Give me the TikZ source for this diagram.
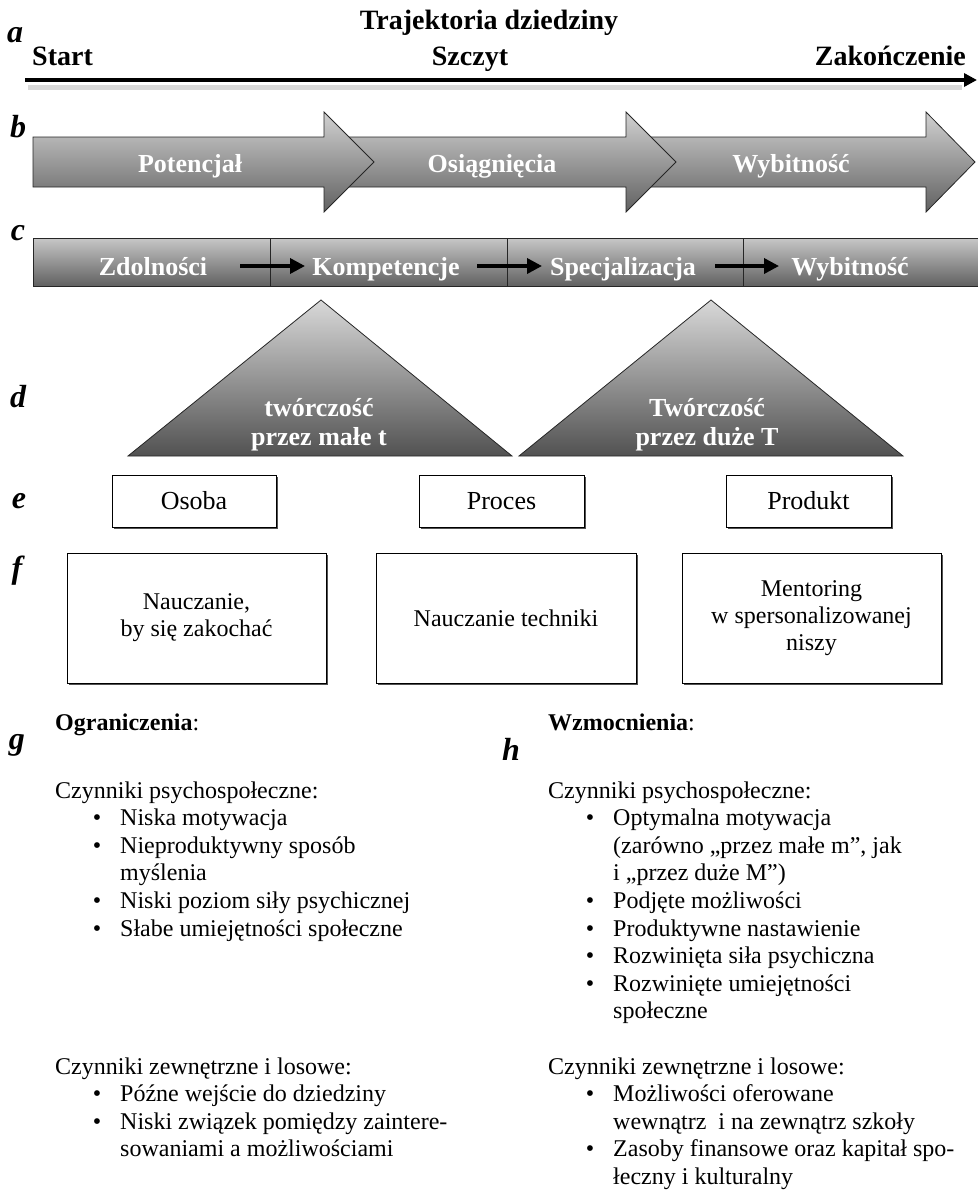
\documentclass[tikz,border=0pt]{standalone}
\usepackage{fontspec}
\setmainfont{Liberation Serif}
\usetikzlibrary{arrows.meta,shadows}
\newcommand{\fsz}[2]{\fontsize{#1}{#2}\selectfont}
\newcommand{\bul}{\llap{\textbullet\hspace{19pt}}}
\begin{document}
\begin{tikzpicture}[x=1pt,y=-1pt,
  lab/.style={font=\fsz{32}{34}\bfseries\itshape, inner sep=0pt, anchor=base},
  hd/.style={font=\fsz{28}{30}\bfseries, inner sep=0pt, anchor=base},
  wt/.style={font=\fsz{26}{29}\bfseries, text=white, inner sep=0pt, anchor=base, align=center},
  bshade/.style={draw=black!85, line width=0.8pt, top color=black!18, bottom color=black!62},
  cshade/.style={draw=black!85, line width=0.8pt, top color=black!22, bottom color=black!62, minimum height=48pt, inner sep=0pt},
  tshade/.style={draw=black!85, line width=0.8pt, top color=black!15, bottom color=black!68},
  ebox/.style={draw=black, line width=1pt, fill=white, drop shadow={shadow xshift=1.6pt, shadow yshift=-1.6pt, opacity=0.85, fill=black!80}, inner sep=0pt, font=\fsz{26}{28}},
  fbox/.style={ebox, font=\fsz{24}{27}, align=center},
  txt/.style={font=\fsz{24}{27}, inner sep=0pt, anchor=base west},
  carrow/.style={line width=3.5pt, -{Triangle[length=15pt,width=15pt]}},
]
\useasboundingbox (0,0) rectangle (977,1191);

% a: trajectory
\node[lab] (la) at (15,42) {a};
\node[hd] (traj) at (489,29) {Trajektoria dziedziny};
\node[hd, anchor=base west] (start) at (32,65) {Start};
\node[hd] (szczyt) at (470,65) {Szczyt};
\node[hd, anchor=base east] (zak) at (966,65) {Zakończenie};
\coordinate (as) at (25,80);
\coordinate (ae) at (977,80);
\draw[line width=5pt, black!25, opacity=0.6] (28,87) -- (962,87);
\draw[line width=3.5pt, -{Triangle[length=13pt,width=13pt]}] (as) -- (ae);

% b: arrows
\node[lab] (lb) at (18,137) {b};
\path[bshade] (626,137) -- (926,137) -- (926,112) -- (975,162) -- (926,212) -- (926,187) -- (626,187) -- cycle;
\path[bshade] (324,137) -- (626,137) -- (626,112) -- (676,162) -- (626,212) -- (626,187) -- (324,187) -- cycle;
\path[bshade] (33,137) -- (324,137) -- (324,112) -- (374,162) -- (324,212) -- (324,187) -- (33,187) -- cycle;
\node[wt] (pot) at (190,172) {Potencjał};
\node[wt] (osi) at (492,172) {Osiągnięcia};
\node[wt] (wyb1) at (791,172) {Wybitność};

% c: bar
\node[lab] (lc) at (18,240) {c};
\node[cshade, minimum width=237pt] (c1) at (151.5,262) {};
\node[cshade, minimum width=237pt] (c2) at (388.5,262) {};
\node[cshade, minimum width=236pt] (c3) at (625,262) {};
\node[cshade, minimum width=247pt] (c4) at (866.5,262) {};
\node[wt] (zdol) at (153,275) {Zdolności};
\node[wt] (komp) at (386,275) {Kompetencje};
\node[wt] (spec) at (623,275) {Specjalizacja};
\node[wt] (wyb2) at (850,275) {Wybitność};
\coordinate (a1s) at (240,266); \coordinate (a1e) at (305,266);
\coordinate (a2s) at (477,266); \coordinate (a2e) at (542,266);
\coordinate (a3s) at (715,266); \coordinate (a3e) at (779,266);
\draw[carrow] (a1s) -- (a1e);
\draw[carrow] (a2s) -- (a2e);
\draw[carrow] (a3s) -- (a3e);

% d: triangles
\node[lab] (ld) at (18,407) {d};
\path[tshade] (128,456) -- (321,300) -- (512,456) -- cycle;
\path[tshade] (519,456) -- (711,300) -- (903,456) -- cycle;
\node[wt, anchor=center] (t1) at (319,425) {twórczość\\przez małe t};
\node[wt, anchor=center] (t2) at (707,425) {Twórczość\\przez duże T};

% e: boxes
\node[lab] (le) at (19,508) {e};
\node[ebox, minimum width=164pt, minimum height=52pt] (osoba) at (194,501) {Osoba};
\node[ebox, minimum width=165pt, minimum height=52pt] (proces) at (501.5,501) {Proces};
\node[ebox, minimum width=165pt, minimum height=52pt] (produkt) at (808.5,501) {Produkt};

% f: boxes
\node[lab] (lf) at (17,578) {f};
\node[fbox, minimum width=259pt, minimum height=130pt] (f1) at (196.5,618) {Nauczanie,\\by się zakochać};
\node[fbox, minimum width=260pt, minimum height=130pt] (f2) at (506,618) {Nauczanie techniki};
\node[fbox, minimum width=259pt, minimum height=130pt] (f3) at (811.5,618) {Mentoring\\w spersonalizowanej\\niszy};

% g: limitations
\node[lab] (lg) at (17,749) {g};
\node[txt] (gh) at (55,730) {\textbf{Ograniczenia}:};
\node[txt] (g0) at (55,798) {Czynniki psychospołeczne:};
\node[txt] (g1) at (120,825.6) {\bul Niska motywacja};
\node[txt] (g2) at (120,853.2) {\bul Nieproduktywny sposób};
\node[txt] (g3) at (120,880.8) {myślenia};
\node[txt] (g4) at (120,908.4) {\bul Niski poziom siły psychicznej};
\node[txt] (g5) at (120,936) {\bul Słabe umiejętności społeczne};
\node[txt] (g10) at (55,1074) {Czynniki zewnętrzne i losowe:};
\node[txt] (g11) at (120,1101.6) {\bul Późne wejście do dziedziny};
\node[txt] (g12) at (120,1129.2) {\bul Niski związek pomiędzy zaintere-};
\node[txt] (g13) at (120,1156.8) {sowaniami a możliwościami};

% h: enhancements
\node[lab] (lh) at (511,760) {h};
\node[txt] (hh) at (548,730) {\textbf{Wzmocnienia}:};
\node[txt] (h0) at (548,798) {Czynniki psychospołeczne:};
\node[txt] (h1) at (613,825.6) {\bul Optymalna motywacja};
\node[txt] (h2) at (613,853.2) {(zarówno „przez małe m”, jak};
\node[txt] (h3) at (613,880.8) {i „przez duże M”)};
\node[txt] (h4) at (613,908.4) {\bul Podjęte możliwości};
\node[txt] (h5) at (613,936) {\bul Produktywne nastawienie};
\node[txt] (h6) at (613,963.6) {\bul Rozwinięta siła psychiczna};
\node[txt] (h7) at (613,991.2) {\bul Rozwinięte umiejętności};
\node[txt] (h8) at (613,1018.8) {społeczne};
\node[txt] (h10) at (548,1074) {Czynniki zewnętrzne i losowe:};
\node[txt] (h11) at (613,1101.6) {\bul Możliwości oferowane};
\node[txt] (h12) at (613,1129.2) {wewnątrz\ \ i na zewnątrz szkoły};
\node[txt] (h13) at (613,1156.8) {\bul Zasoby finansowe oraz kapitał spo-};
\node[txt] (h14) at (613,1184.4) {łeczny i kulturalny};
\end{tikzpicture}
\end{document}
